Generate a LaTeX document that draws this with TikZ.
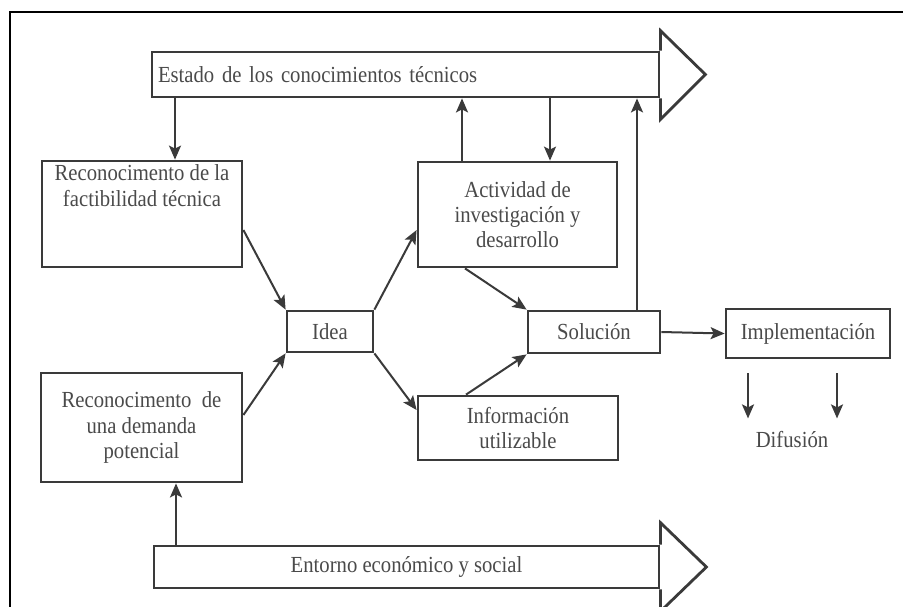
\documentclass[tikz,border=0pt]{standalone}
\usepackage{fontspec}
\setmainfont[FakeStretch=0.9]{Liberation Serif}
\usetikzlibrary{arrows.meta,positioning}
\definecolor{ink}{HTML}{3A3A3A}
\definecolor{txtgray}{HTML}{4A4A4A}
\begin{document}
\begin{tikzpicture}[x=0.5pt,y=-0.5pt,>={Stealth[length=7pt,width=6pt,inset=1.5pt]},
  every node/.style={font=\fontsize{11.5}{12.6}\selectfont, text=txtgray},
  box/.style={draw=ink, line width=1.4pt, fill=white, inner sep=2pt, align=center},
  banner/.style={draw=ink, line width=1.4pt, fill=white, inner sep=3pt},
  link/.style={->, draw=ink, line width=1pt}]
\useasboundingbox (0,0) rectangle (903,606);
\clip (0,0) rectangle (903,606);
\fill[white] (0,0) rectangle (903,606);
\draw[black, line width=1pt] (10,620) -- (10,12) -- (920,12);

% banners
\node[banner, minimum width=253.5pt, minimum height=22.5pt, text width=247.5pt, align=left] (estado) at (405.5,74.5) {Estado de los conocimientos técnicos};
\draw[ink, line width=1.4pt] (estado.north east) -- ++(0,-20) -- ([xshift=22.5pt]estado.east) -- ([yshift=-10.5pt]estado.south east) -- (estado.south east);
\node[banner, minimum width=252.5pt, minimum height=21pt] (entorno) at (406.5,567) {Entorno económico y social};
\draw[ink, line width=1.4pt] (entorno.north east) -- ++(0,-22) -- ([xshift=23pt]entorno.east) -- ([yshift=-11pt]entorno.south east) -- (entorno.south east);

% boxes
\node[box, minimum width=100pt, minimum height=53pt] (fact) at (142,214) {};
\node[below=1.5pt of fact.north, align=center, inner sep=1pt] (factlbl) {Reconocimento de la\\factibilidad técnica};
\node[box, minimum width=43pt, minimum height=20.5pt] (idea) at (330,331.5) {Idea};
\node[box, minimum width=100.5pt, minimum height=54.5pt] (dem) at (141.5,427.5) {Reconocimento\ \ de\\una demanda\\potencial};
\node[box, minimum width=99.5pt, minimum height=52.5pt] (act) at (517.5,214.5) {Actividad de\\investigación y\\desarrollo};
\node[box, minimum width=66pt, minimum height=21pt] (sol) at (594,332) {Solución};
\node[box, minimum width=82pt, minimum height=24.5pt] (impl) at (808,333.5) {Implementación};
\node[box, minimum width=100pt, minimum height=32pt] (info) at (518,428) {Información\\utilizable};
\node (difu) at (792,440) {Difusión};

% connectors
\draw[link] ([xshift=16.5pt]fact.north |- estado.south) -- ([xshift=16.5pt]fact.north);
\draw[link] ([xshift=-27.75pt]act.north) -- ([xshift=-27.75pt]act.north |- estado.south);
\draw[link] ([xshift=16.25pt]act.north |- estado.south) -- ([xshift=16.25pt]act.north);
\draw[link] ([xshift=21.5pt]sol.north) -- ([xshift=21.5pt]sol.north |- estado.south);
\draw[link] ([xshift=17.25pt]dem.south |- entorno.north) -- ([xshift=17.25pt]dem.south);
\draw[link] ([yshift=-8pt]fact.east) -- (idea.north west);
\draw[link] ([yshift=6.25pt]dem.east) -- (idea.south west);
\draw[link] (idea.north east) -- ([yshift=-7.75pt]act.west);
\draw[link] (idea.south east) -- ([yshift=9pt]info.west);
\draw[link] ([xshift=-26.25pt]act.south) -- (sol.north west);
\draw[link] ([xshift=-26pt]info.north) -- (sol.south west);
\draw[link] (sol.east) -- (impl.west);
\foreach \dx in {-30,14.5}
  \draw[link] ([xshift=\dx pt, yshift=-7pt]impl.south) -- ++(0,45);
\end{tikzpicture}
\end{document}
